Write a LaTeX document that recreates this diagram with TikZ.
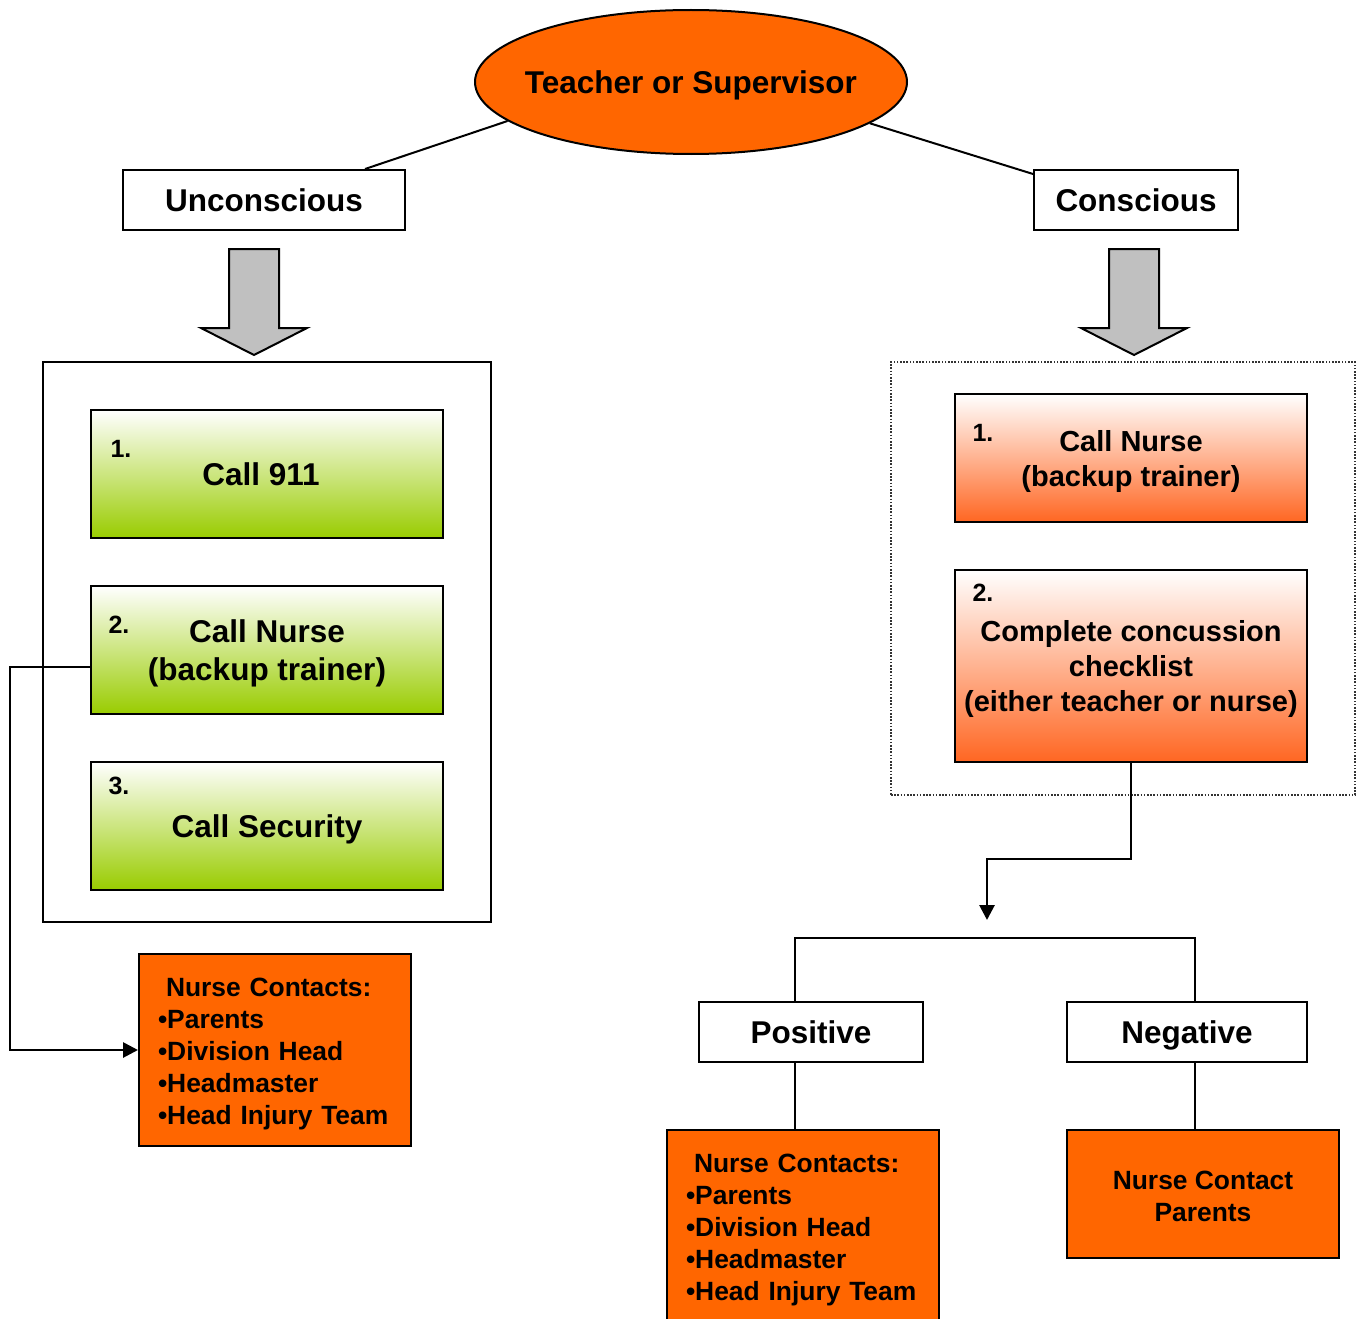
\documentclass[tikz,border=0pt]{standalone}
\usepackage{fontspec}
\setmainfont{Liberation Sans}
\usetikzlibrary{shapes.geometric,arrows.meta}

\definecolor{orng}{RGB}{255,102,0}
\definecolor{greenend}{RGB}{153,204,0}
\definecolor{redend}{RGB}{255,102,34}
\definecolor{arrowgray}{RGB}{192,192,192}

\tikzset{
  bigtext/.style={font=\fontsize{31.5}{38}\selectfont\bfseries},
  midtext/.style={font=\fontsize{29}{35}\selectfont\bfseries},
  smalltext/.style={font=\fontsize{26.4}{32}\selectfont\bfseries},
  numtext/.style={font=\fontsize{25}{30}\selectfont\bfseries, inner sep=0pt},
  capline/.style={text height=22.6pt, text depth=0pt},
  nodepth/.style={text depth=0pt},
  plainbox/.style={draw, line width=2pt, fill=white, inner sep=0pt, align=center, capline},
  greenbox/.style={draw, line width=2pt, top color=white, bottom color=greenend,
    inner sep=0pt, align=center, minimum width=352pt, minimum height=128pt, bigtext},
  redbox/.style={draw, line width=2pt, top color=white, bottom color=redend,
    inner sep=0pt, align=center, minimum width=352pt, midtext, nodepth},
  orangebox/.style={draw, line width=2pt, fill=orng, inner sep=0pt, smalltext},
  blockarrow/.style={draw, line width=2pt, fill=arrowgray, line join=miter},
  conn/.style={line width=2.8pt},
  tip/.style={-{Triangle[length=15pt,width=15pt]}},
}

\begin{document}
\begin{tikzpicture}[x=1pt, y=-1pt]
\useasboundingbox (0,0) rectangle (1357,1319);

% top decision
\node[ellipse, draw, line width=2pt, fill=orng, minimum width=432pt,
      minimum height=144pt, inner sep=0pt] (ts) at (691,82) {};
\node[bigtext, capline, inner sep=0pt] (tstext) at (ts.center) {Teacher or Supervisor};

% the two branches
\node[plainbox, minimum width=282pt, minimum height=60pt, bigtext] (unc) at (264,200) {Unconscious};
\node[plainbox, minimum width=204pt, minimum height=60pt, bigtext] (con) at (1136,200) {Conscious};

\draw[line width=2pt] (ts.192) -- ([xshift=101pt]unc.north);
\draw[line width=2pt] (ts.347.7) -- ([yshift=-5pt]con.north west);

% grey block arrows
\draw[blockarrow] (229,249) -- (279,249) -- (279,328) -- (307,328) -- (254,355)
  -- (201,328) -- (229,328) -- cycle;
\draw[blockarrow] (1109,249) -- (1159,249) -- (1159,328) -- (1187,328) -- (1134,355)
  -- (1081,328) -- (1109,328) -- cycle;

% unconscious steps
\node[draw, line width=2pt, minimum width=448pt, minimum height=560pt, inner sep=0pt] (ubox) at (267,642) {};
\node[greenbox, capline] (g1) at (267,474) {\hspace*{-12pt}Call 911};
\node[greenbox, nodepth] (g2) at (267,650) {Call Nurse\\(backup trainer)};
\node[greenbox, capline] (g3) at (267,826) {Call Security};
\node[numtext] (g1n) at ([xshift=31pt,yshift=-40pt]g1.north west) {1.};
\node[numtext] (g2n) at ([xshift=29pt,yshift=-40pt]g2.north west) {2.};
\node[numtext] (g3n) at ([xshift=29pt,yshift=-25pt]g3.north west) {3.};

% conscious steps
\node[draw, line width=1.6pt, dash pattern=on 1.6pt off 1.6pt, black!80,
      minimum width=464pt, minimum height=433pt, inner sep=0pt] (cbox) at (1123,578.5) {};
\node[redbox, minimum height=128pt] (r1) at (1131,458) {Call Nurse\\(backup trainer)};
\node[redbox, minimum height=192pt] (r2) at (1131,666)
  {Complete concussion\\checklist\\(either teacher or nurse)};
\node[numtext] (r1n) at ([xshift=29pt,yshift=-40pt]r1.north west) {1.};
\node[numtext] (r2n) at ([xshift=29pt,yshift=-24pt]r2.north west) {2.};

% nurse contacts for the unconscious case
\node[orangebox, minimum width=272pt, minimum height=192pt] (nc1) at (275,1050) {};
\node[smalltext, text width=234pt, align=left, inner sep=0pt] (nc1t) at ([yshift=-4pt]nc1.center)
  {\hspace*{8pt}Nurse Contacts:\\•Parents\\•Division Head\\•Headmaster\\•Head Injury Team};
\draw[conn, tip] ([yshift=-17pt]g2.west) -- ++(-80,0) |- (nc1.west);

% checklist outcome
\coordinate (split) at (987,920);
\draw[conn, tip] (r2.south) -- ++(0,96) -| (split);

\node[plainbox, minimum width=224pt, minimum height=60pt, bigtext] (pos) at (811,1032) {Positive};
\node[plainbox, minimum width=240pt, minimum height=60pt, bigtext] (neg) at (1187,1032) {Negative};

\node[orangebox, minimum width=272pt, minimum height=192pt] (nc2) at (803,1226) {};
\node[smalltext, text width=234pt, align=left, inner sep=0pt] (nc2t) at ([yshift=-4pt]nc2.center)
  {\hspace*{8pt}Nurse Contacts:\\•Parents\\•Division Head\\•Headmaster\\•Head Injury Team};
\node[orangebox, minimum width=272pt, minimum height=128pt] (ncp) at (1203,1194) {};
\node[smalltext, align=center, inner sep=0pt] (ncpt) at ([yshift=-2pt]ncp.center) {Nurse Contact\\Parents};

\coordinate (bl) at (795,938);
\coordinate (br) at (1195,938);
\draw[conn] (pos.north -| bl) -- (bl) -- (br) -- (neg.north -| br);
\draw[conn] (pos.south -| bl) -- (nc2.north -| bl);
\draw[conn] (neg.south -| br) -- (ncp.north -| br);
\end{tikzpicture}
\end{document}
